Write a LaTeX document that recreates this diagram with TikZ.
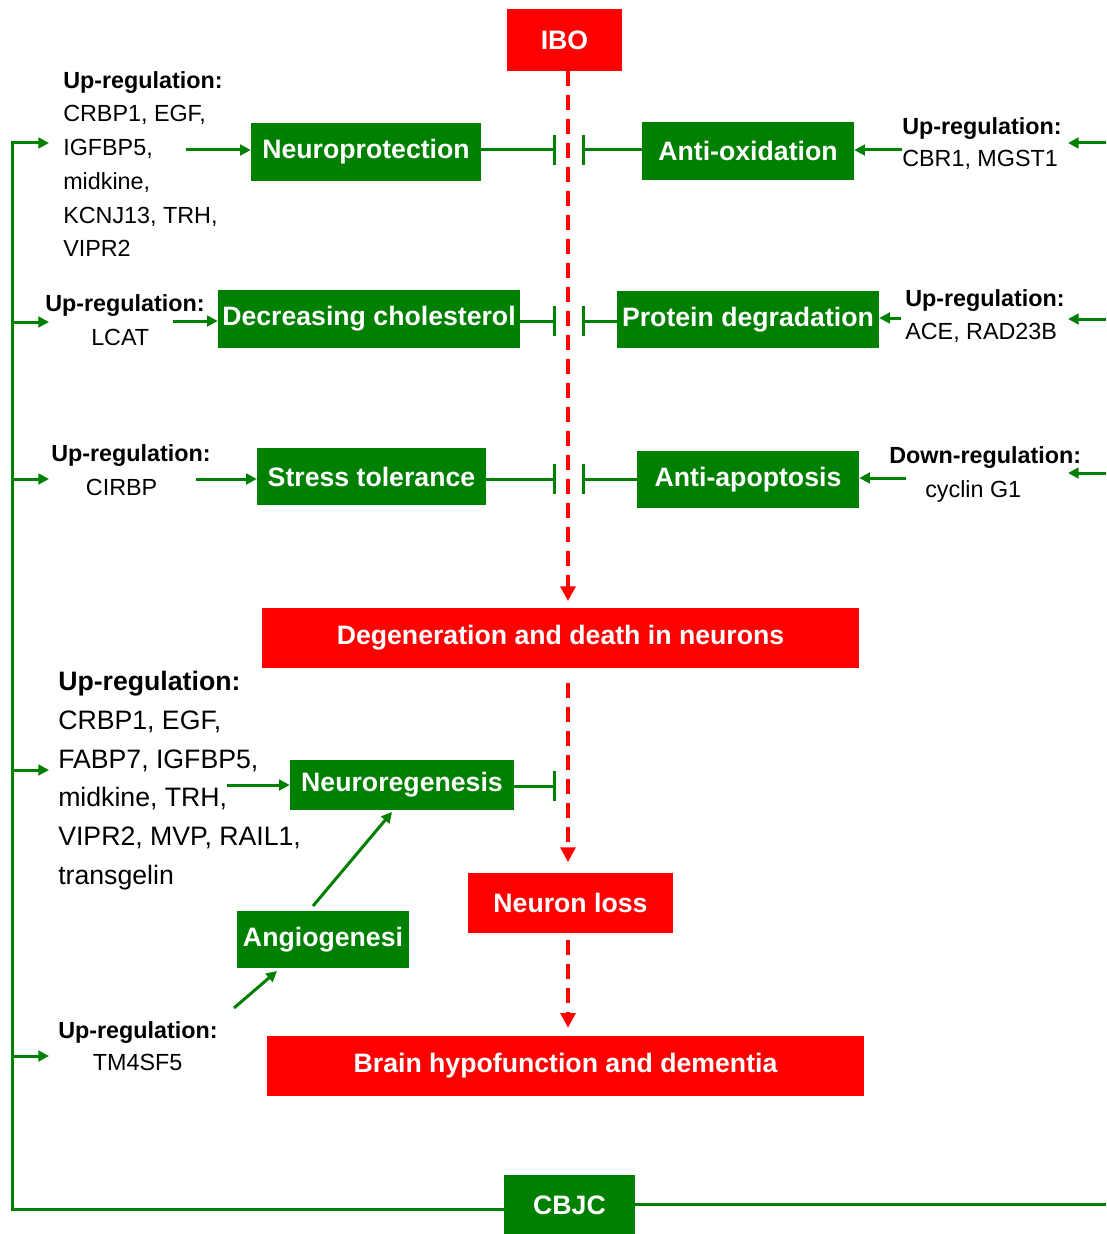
\documentclass[tikz,border=0pt]{standalone}
\usepackage{fontspec}
\setmainfont{Liberation Sans}
\usetikzlibrary{arrows.meta}
\definecolor{G}{RGB}{0,128,0}
\definecolor{R}{RGB}{255,0,0}
\begin{document}
\begin{tikzpicture}[x=0.75pt,y=-0.75pt,
 box/.style={inner sep=0pt, text=white, font=\bfseries\fontsize{20}{24}\selectfont},
 gbox/.style={box, fill=G},
 rbox/.style={box, fill=R},
 lab/.style={inner sep=0pt, align=left, font=\fontsize{17.5}{24.5}\selectfont},
 gline/.style={draw=G, line width=2.25pt},
 garrow/.style={gline, -{Triangle[length=8pt,width=8pt]}},
 inh/.style={gline, -{Bar[width=22pt]}},
 rarrow/.style={draw=R, line width=3pt, dash pattern=on 11pt off 7pt, -{Triangle[length=11pt,width=11pt]}},
]
\fill[white] (0,0) rectangle (1106,1234);
\useasboundingbox (0,0) rectangle (1106,1234);

% boxes
\node[rbox, minimum width=86.25pt, minimum height=46.5pt] (ibo) at (564.5,40) {IBO};
\node[gbox, minimum width=172.5pt, minimum height=43.5pt] (np) at (366,152) {Neuroprotection};
\node[gbox, minimum width=159pt, minimum height=42.75pt] (ao) at (748,151) {Anti-oxidation};
\node[gbox, minimum width=226.5pt, minimum height=43.5pt] (dc) at (369,319) {Decreasing cholesterol};
\node[gbox, minimum width=196.5pt, minimum height=42.75pt] (pd) at (748,319.5) {Protein degradation};
\node[gbox, minimum width=171.75pt, minimum height=42.75pt] (st) at (371.5,476.5) {Stress tolerance};
\node[gbox, minimum width=166.5pt, minimum height=42.75pt] (aa) at (748,479.5) {Anti-apoptosis};
\node[rbox, minimum width=447.75pt, minimum height=45pt] (deg) at (560.5,638) {Degeneration and death in neurons};
\node[gbox, minimum width=168pt, minimum height=37.5pt] (nr) at (402,785) {Neuroregenesis};
\node[rbox, minimum width=153.75pt, minimum height=45pt] (nl) at (570.5,903) {Neuron loss};
\node[gbox, minimum width=129pt, minimum height=42.75pt] (ag) at (323,939.5) {Angiogenesi};
\node[rbox, minimum width=447.75pt, minimum height=45pt] (br) at (565.5,1066) {Brain hypofunction and dementia};
\node[gbox, minimum width=98.25pt, minimum height=45pt] (cb) at (569.5,1205) {CBJC};

% labels
\node[lab, anchor=north west, font=\fontsize{17.5}{25.3}\selectfont] (l1) at (63,71) {\textbf{Up-regulation:}\\CRBP1, EGF,\\IGFBP5,\\midkine,\\KCNJ13, TRH,\\VIPR2};
\node[lab, anchor=north west, font=\fontsize{17.5}{25.5}\selectfont] (l2) at (45,294) {\textbf{Up-regulation:}\\\hspace*{34.5pt}LCAT};
\node[lab, anchor=north west, font=\fontsize{17.5}{25.5}\selectfont] (l3) at (51,444) {\textbf{Up-regulation:}\\\hspace*{26pt}CIRBP};
\node[lab, anchor=north west, font=\fontsize{20}{29.1}\selectfont] (l4) at (58,671) {\textbf{Up-regulation:}\\CRBP1, EGF,\\FABP7, IGFBP5,\\midkine, TRH,\\VIPR2, MVP, RAIL1,\\transgelin};
\node[lab, anchor=north west, font=\fontsize{17.5}{24}\selectfont] (l5) at (58,1021) {\textbf{Up-regulation:}\\\hspace*{26pt}TM4SF5};
\node[lab, anchor=north west, font=\fontsize{17.5}{24}\selectfont] (r1) at (902,117) {\textbf{Up-regulation:}\\CBR1, MGST1};
\node[lab, anchor=north west, font=\fontsize{17.5}{24.75}\selectfont] (r2) at (905,289) {\textbf{Up-regulation:}\\ACE, RAD23B};
\node[lab, anchor=north west, font=\fontsize{17.5}{25.5}\selectfont] (r3) at (889,446) {\textbf{Down-regulation:}\\\hspace*{27pt}cyclin G1};

% helper coordinates
\coordinate (vx) at (568,0);
\coordinate (bus) at (12,0);
\coordinate (barL) at (556,0);
\coordinate (barR) at (582,0);
\coordinate (edge) at (1106,0);
\coordinate (tipL) at (49,0);
\coordinate (tipR) at (1068,0);

% red dashed flow
\draw[rarrow] (ibo.south -| vx) -- ([yshift=5pt]deg.north -| vx);
\draw[rarrow] ([yshift=-11pt]deg.south -| vx) -- ([yshift=8pt]nl.north -| vx);
\draw[rarrow] ([yshift=-5pt]nl.south -| vx) -- ([yshift=6pt]br.north -| vx);

% inhibitions
\coordinate (i1) at (0,150); \coordinate (i2) at (0,321); \coordinate (i3) at (0,479); \coordinate (i4) at (0,786);
\draw[inh] (np.east |- i1) -- (barL |- i1);
\draw[inh] (ao.west |- i1) -- (barR |- i1);
\draw[inh] (dc.east |- i2) -- (barL |- i2);
\draw[inh] (pd.west |- i2) -- (barR |- i2);
\draw[inh] (st.east |- i3) -- (barL |- i3);
\draw[inh] (aa.west |- i3) -- (barR |- i3);
\draw[inh] (nr.east |- i4) -- (barL |- i4);

% left inputs
\coordinate (t1) at (186,150); \coordinate (t2) at (173,321); \coordinate (t3) at (196,479); \coordinate (t4) at (227,785);
\draw[garrow] (t1) -- (np.west |- t1);
\draw[garrow] (t2) -- (dc.west |- t2);
\draw[garrow] (t3) -- (st.west |- t3);
\draw[garrow] (t4) -- (nr.west |- t4);
\coordinate (a1) at (313,906); \coordinate (a2) at (392,812);
\draw[garrow] (a1) -- (a2);
\coordinate (a3) at (234,1008); \coordinate (a4) at (277,971);
\draw[garrow] (a3) -- (a4);

% right inputs
\coordinate (s1) at (902,150); \coordinate (s2) at (901,318); \coordinate (s3) at (906,478);
\draw[garrow] (s1) -- (ao.east |- s1);
\draw[garrow] (s2) -- (pd.east |- s2);
\draw[garrow] (s3) -- (aa.east |- s3);
\coordinate (e1) at (0,143); \coordinate (e2) at (0,319); \coordinate (e3) at (0,473);
\draw[garrow] (edge |- e1) -- (tipR |- e1);
\draw[garrow] (edge |- e2) -- (tipR |- e2);
\draw[garrow] (edge |- e3) -- (tipR |- e3);

% left bus from CBJC
\coordinate (b0) at (0,1209); \coordinate (b1) at (0,143);
\draw[gline] (cb.west |- b0) -- (bus |- b0) -- (bus |- b1);
\draw[garrow] ([xshift=-0.9pt]bus |- b1) -- (tipL |- b1);
\coordinate (b2) at (0,322); \coordinate (b3) at (0,479); \coordinate (b4) at (0,770); \coordinate (b5) at (0,1056);
\draw[garrow] (bus |- b2) -- (tipL |- b2);
\draw[garrow] (bus |- b3) -- (tipL |- b3);
\draw[garrow] (bus |- b4) -- (tipL |- b4);
\draw[garrow] (bus |- b5) -- (tipL |- b5);
% right bus from CBJC
\coordinate (b6) at (0,1204);
\draw[gline] (cb.east |- b6) -- (edge |- b6);
\end{tikzpicture}
\end{document}
